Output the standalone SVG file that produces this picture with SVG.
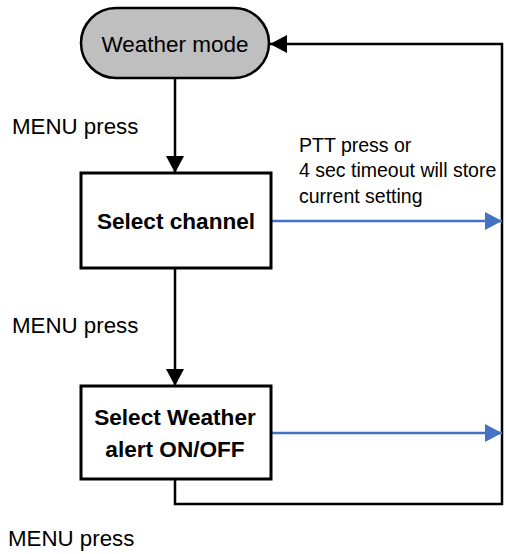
<svg xmlns="http://www.w3.org/2000/svg" width="506" height="554" viewBox="0 0 506 554">
<style>
text{font-family:"Liberation Sans",Arial,sans-serif;fill:#000}
.lbl{font-size:22.3px}
.node{font-size:22.5px}
.bold{font-size:22.6px;font-weight:bold}
.note{font-size:19.5px}
.box{fill:#fff;stroke:#000;stroke-width:3}
.pill{fill:#bfbfbf;stroke:#000;stroke-width:2.5}
.blk{fill:none;stroke:#000;stroke-width:2.5}
.blu{fill:none;stroke:#4472c4;stroke-width:2.3}
</style>
<defs>
<marker id="ab" markerUnits="userSpaceOnUse" markerWidth="17" markerHeight="18" refX="17" refY="9" orient="auto" viewBox="0 0 17 18">
<path d="M0,0 L17,9 L0,18 z" fill="#000"/>
</marker>
<marker id="au" markerUnits="userSpaceOnUse" markerWidth="17" markerHeight="18" refX="17" refY="9" orient="auto" viewBox="0 0 17 18">
<path d="M0,0 L17,9 L0,18 z" fill="#4472c4"/>
</marker>
</defs>
<g id="connectors">
<path class="blk" d="M175,78 L175,173" marker-end="url(#ab)"/>
<path class="blk" d="M175,268 L175,386" marker-end="url(#ab)"/>
<path class="blk" d="M175,479 L175,504 L502,504 L502,44 L270,44" marker-end="url(#ab)"/>
<path class="blu" d="M271,221 L502,221" marker-end="url(#au)"/>
<path class="blu" d="M271,433 L502,433" marker-end="url(#au)"/>
</g>
<g id="node-weather-mode">
<rect class="pill" x="81" y="8" width="188" height="70" rx="35" ry="35"/>
<text class="node" x="175" y="52" text-anchor="middle">Weather mode</text>
</g>
<g id="node-select-channel">
<rect class="box" x="81" y="173" width="190" height="95"/>
<text class="bold" x="176" y="229" text-anchor="middle">Select channel</text>
</g>
<g id="node-select-weather-alert">
<rect class="box" x="81" y="386" width="190" height="93"/>
<text class="bold" x="175" y="425" text-anchor="middle">Select Weather</text>
<text class="bold" x="175" y="457" text-anchor="middle">alert ON/OFF</text>
</g>
<g id="labels">
<text class="lbl" x="12" y="134">MENU press</text>
<text class="lbl" x="12" y="333">MENU press</text>
<text class="lbl" x="8" y="546">MENU press</text>
<text class="note" x="299" y="152">PTT press or</text>
<text class="note" x="299" y="177">4 sec timeout will store</text>
<text class="note" x="299" y="203">current setting</text>
</g>
</svg>
